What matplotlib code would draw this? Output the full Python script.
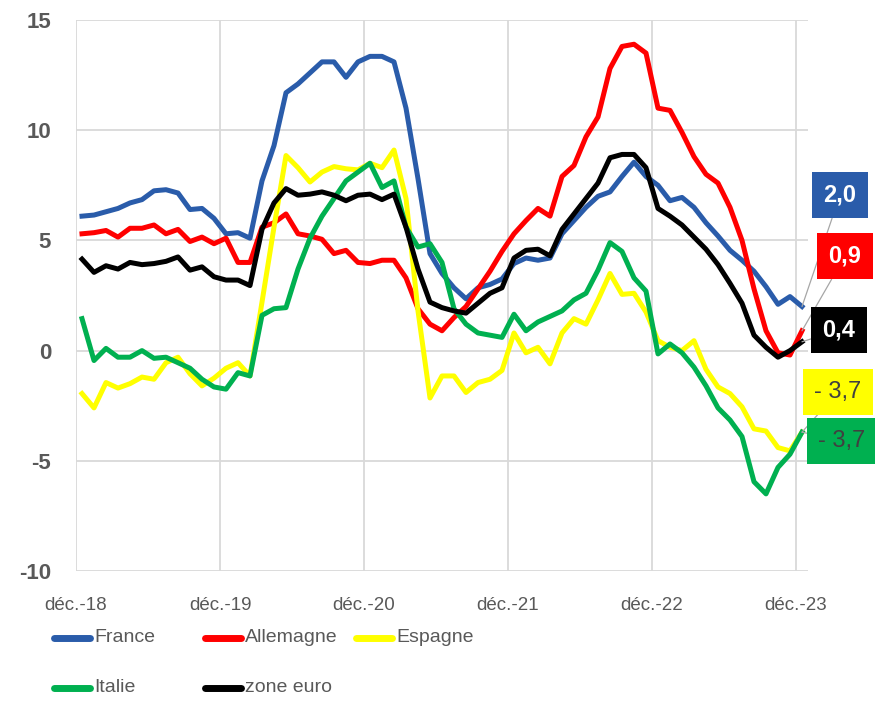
import matplotlib.pyplot as plt
from matplotlib.lines import Line2D
import numpy as np

# monthly values, déc.-18 .. déc.-23
months = np.arange(61)
france = [6.1, 6.15, 6.3, 6.45, 6.7, 6.85, 7.25, 7.3, 7.15, 6.4, 6.45, 6.0, 5.3, 5.35, 5.1,
          7.7, 9.3, 11.7, 12.1, 12.6, 13.1, 13.1, 12.4, 13.1, 13.35, 13.35, 13.1,
          11.0, 7.8, 4.4, 3.5, 2.85, 2.35, 2.85, 3.0, 3.25, 3.95, 4.2, 4.1, 4.2,
          5.3, 5.9, 6.5, 7.0, 7.2, 7.9, 8.55, 7.9, 7.5, 6.8, 6.95,
          6.5, 5.8, 5.2, 4.55, 4.1, 3.6, 2.9, 2.1, 2.45, 2.0]
allemagne = [5.3, 5.35, 5.45, 5.15, 5.55, 5.55, 5.7, 5.3, 5.5, 4.95, 5.15, 4.85, 5.1, 4.0, 4.0,
             5.6, 5.8, 6.2, 5.3, 5.2, 5.05, 4.4, 4.55, 4.0, 3.95, 4.1, 4.1,
             3.3, 1.9, 1.2, 0.9, 1.5, 2.0, 2.8, 3.6, 4.5, 5.3, 5.9, 6.45, 6.1,
             7.9, 8.4, 9.7, 10.6, 12.8, 13.8, 13.9, 13.5, 11.0, 10.9, 9.9,
             8.8, 8.0, 7.6, 6.5, 5.0, 2.8, 0.9, -0.1, -0.2, 0.9]
espagne = [-1.95, -2.6, -1.45, -1.7, -1.5, -1.2, -1.3, -0.55, -0.3, -1.05, -1.6, -1.25, -0.8, -0.55, -1.15,
           2.2, 5.6, 8.85, 8.3, 7.65, 8.1, 8.35, 8.25, 8.2, 8.5, 8.3, 9.1,
           6.9, 1.8, -2.15, -1.15, -1.15, -1.9, -1.45, -1.3, -0.9, 0.8, -0.1, 0.15, -0.6,
           0.8, 1.45, 1.2, 2.3, 3.5, 2.55, 2.6, 1.75, 0.45, 0.15, 0.0,
           0.45, -0.85, -1.65, -1.95, -2.55, -3.55, -3.65, -4.4, -4.55, -3.7]
italie = [1.45, -0.45, 0.1, -0.3, -0.3, 0.0, -0.35, -0.3, -0.55, -0.8, -1.3, -1.65, -1.75, -1.0, -1.15,
          1.6, 1.9, 1.95, 3.7, 5.1, 6.1, 6.9, 7.7, 8.1, 8.5, 7.4, 7.7,
          5.6, 4.7, 4.85, 4.0, 1.9, 1.2, 0.8, 0.7, 0.6, 1.65, 0.9, 1.3, 1.55,
          1.8, 2.3, 2.6, 3.65, 4.9, 4.5, 3.3, 2.7, -0.15, 0.3, -0.1,
          -0.75, -1.6, -2.6, -3.15, -3.9, -5.95, -6.5, -5.3, -4.7, -3.7]
zone_euro = [4.15, 3.55, 3.85, 3.7, 4.0, 3.9, 3.95, 4.05, 4.25, 3.65, 3.8, 3.35, 3.2, 3.2, 2.95,
             5.5, 6.7, 7.35, 7.05, 7.1, 7.2, 7.05, 6.8, 7.05, 7.1, 6.85, 7.1,
             5.6, 3.7, 2.2, 1.95, 1.8, 1.7, 2.15, 2.6, 2.85, 4.2, 4.55, 4.6, 4.3,
             5.5, 6.2, 6.9, 7.6, 8.75, 8.9, 8.9, 8.3, 6.45, 6.1, 5.7,
             5.15, 4.6, 3.9, 3.05, 2.15, 0.7, 0.15, -0.3, 0.0, 0.4]

names = ['France', 'Allemagne', 'Espagne', 'Italie', 'zone euro']
colors = ['#2a5caa', '#ff0000', '#ffff00', '#00b050', '#000000']
series = [france, allemagne, espagne, italie, zone_euro]
end_labels = ['2,0', '0,9', '- 3,7', '- 3,7', '0,4']
xtick_labels = ['déc.-18', 'déc.-19', 'déc.-20', 'déc.-21', 'déc.-22', 'déc.-23']
yticks = [-10, -5, 0, 5, 10, 15]

font = ['Liberation Sans', 'DejaVu Sans']
grey = '#595959'

W, H = 875, 701
fig = plt.figure(figsize=(W / 100, H / 100), dpi=100)
ax = fig.add_axes([76 / W, (H - 571) / H, (808 - 76) / W, (571 - 20) / H])

for name, col, vals in zip(names, colors, series):
    ax.plot(months, vals, color=col, lw=3.6, solid_joinstyle='round', label=name)

ax.set_xlim(-0.5, 60.5)
ax.set_ylim(-10, 15)
ax.set_yticks(yticks)
ax.set_yticklabels([str(v) for v in yticks], fontweight='bold', color=grey,
                   family=font, fontsize=16)
ax.set_xticks(np.arange(-0.5, 60, 12))
ax.set_xticklabels(xtick_labels, color=grey, family=font, fontsize=13.5)
ax.tick_params(axis='y', length=0, pad=18)
ax.tick_params(axis='x', length=0, pad=19)
ax.grid(True, color='#d9d9d9', lw=1.3)
ax.set_axisbelow(True)
for s in ax.spines.values():
    s.set_visible(False)

# end-of-series value boxes (figure pixels, from top)
box_pos = {'France': (840, 195), 'Allemagne': (845, 256), 'Espagne': (838, 392),
           'Italie': (842, 441), 'zone euro': (839, 330)}
text_col = {'France': 'white', 'Allemagne': 'white', 'zone euro': 'white',
            'Espagne': '#404040', 'Italie': '#404040'}
for name, col, vals, lab in zip(names, colors, series, end_labels):
    bx, by = box_pos[name]
    bold = 'bold' if text_col[name] == 'white' else 'normal'
    ax.annotate(lab, xy=(months[-1], vals[-1]), xytext=(bx, H - by),
                textcoords='figure pixels', ha='center', va='center',
                fontsize=17, fontweight=bold, color=text_col[name], family=font,
                bbox=dict(boxstyle='square,pad=0.5', fc=col, ec='none'),
                arrowprops=dict(arrowstyle='-', color='#a6a6a6', lw=0.9,
                                shrinkA=0, shrinkB=0),
                annotation_clip=False, zorder=5)

# legend, laid out in rows like the original
leg_x = [54, 205, 356]
leg_y = [638, 688]
for k, (name, col) in enumerate(zip(names, colors)):
    x0 = leg_x[k % 3]
    y0 = H - leg_y[k // 3]
    fig.add_artist(Line2D([x0 / W, (x0 + 36) / W], [y0 / H, y0 / H], color=col,
                          lw=5, solid_capstyle='round'))
    fig.text((x0 + 40) / W, y0 / H, name, color=grey, family=font, fontsize=14,
             ha='left', va='center')

fig.savefig('out.png', dpi=100)
